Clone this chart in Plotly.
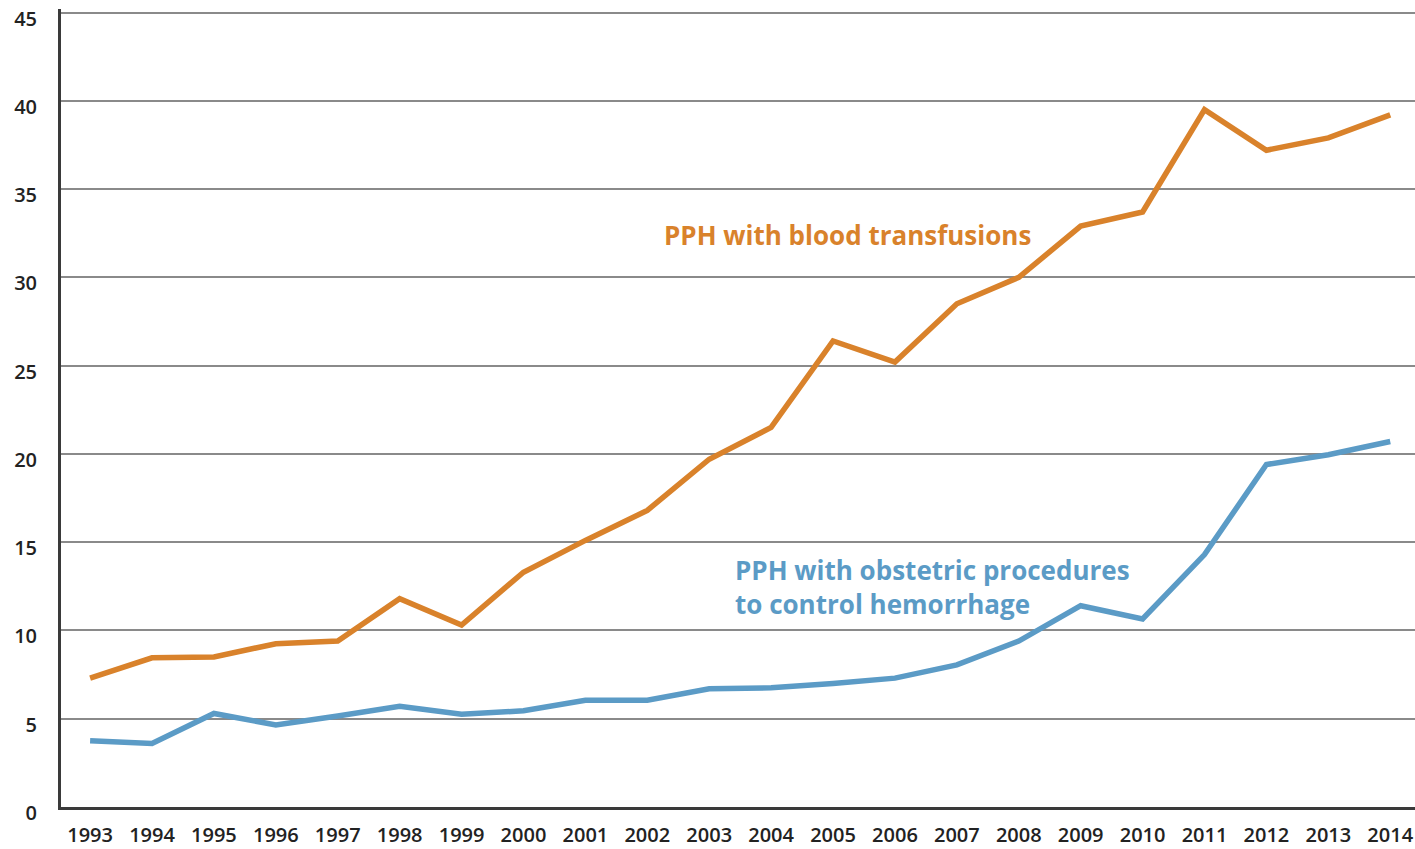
import plotly.graph_objects as go

years = list(range(1993, 2015))

blood_transfusions = [7.3, 8.45, 8.5, 9.25, 9.4, 11.8, 10.3, 13.3, 15.1, 16.8, 19.7,
                      21.5, 26.4, 25.2, 28.5, 30.0, 32.9, 33.7, 39.5, 37.2, 37.9, 39.2]

obstetric_procedures = [3.75, 3.6, 5.3, 4.65, 5.15, 5.7, 5.25, 5.45, 6.05, 6.05, 6.7,
                        6.75, 7.0, 7.3, 8.05, 9.4, 11.4, 10.65, 14.3, 19.4, 19.95, 20.7]

y_ticks = [0, 5, 10, 15, 20, 25, 30, 35, 40, 45]

ORANGE = "#D9822B"
BLUE = "#5B9BC6"
FONT = "Open Sans"

fig = go.Figure()

fig.add_trace(go.Scatter(
    x=years, y=blood_transfusions, mode="lines",
    line=dict(color=ORANGE, width=5.5), name="PPH with blood transfusions",
))
fig.add_trace(go.Scatter(
    x=years, y=obstetric_procedures, mode="lines",
    line=dict(color=BLUE, width=5.5), name="PPH with obstetric procedures",
))

fig.add_annotation(
    x=2005.23, y=32.4, xref="x", yref="y",
    text="PPH with blood transfusions", showarrow=False,
    xanchor="center", yanchor="middle",
    font=dict(family=FONT, size=26, color=ORANGE, weight=700),
)
fig.add_annotation(
    x=2003.39, y=12.47, xref="x", yref="y",
    text="PPH with obstetric procedures<br>to control hemorrhage", showarrow=False,
    xanchor="left", yanchor="middle", align="left",
    font=dict(family=FONT, size=26, color=BLUE, weight=700),
)

fig.update_layout(
    width=1415, height=849,
    margin=dict(l=61, r=0, t=9, b=42, autoexpand=False),
    paper_bgcolor="white", plot_bgcolor="white",
    showlegend=False,
    font=dict(family=FONT, color="#222222"),
)

fig.update_xaxes(
    range=[1992.53, 2014.4],
    tickmode="array", tickvals=years, ticktext=[str(y) for y in years],
    showgrid=False, zeroline=False,
    showline=True, linecolor="#3a3a3a", linewidth=3,
    ticks="", ticklabelstandoff=8,
    tickfont=dict(family=FONT, size=20, color="#222222", weight=600),
)
fig.update_yaxes(
    range=[0, 45.2],
    tickmode="array", tickvals=y_ticks,
    showgrid=True, gridcolor="#8a8a8a", gridwidth=2,
    zeroline=False,
    showline=True, linecolor="#3a3a3a", linewidth=3,
    ticks="", ticklabelstandoff=17, ticklabelshift=6, ticklabeloverflow="allow",
    tickfont=dict(family=FONT, size=20, color="#222222", weight=600),
)

fig.write_html("out.html")
